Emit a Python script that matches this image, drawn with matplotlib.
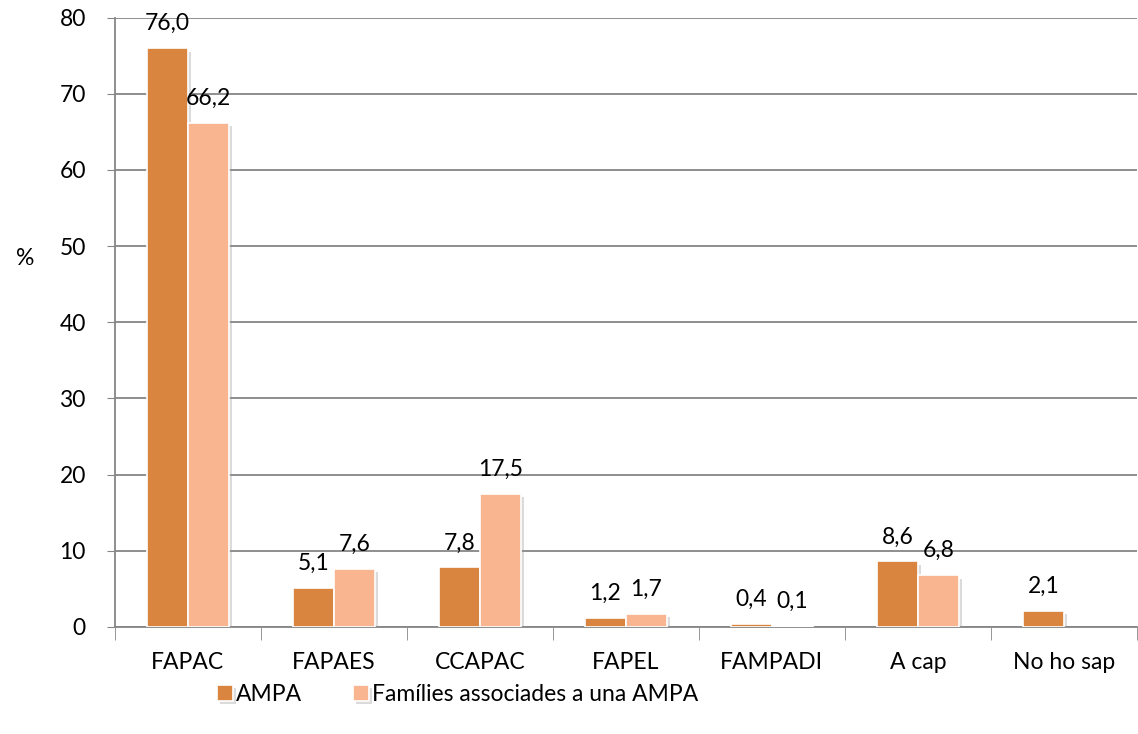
import matplotlib.pyplot as plt
import matplotlib.patheffects as pe
import numpy as np

plt.rcParams['font.family'] = ['Lato', 'DejaVu Sans']

# values
categories = ['FAPAC', 'FAPAES', 'CCAPAC', 'FAPEL', 'FAMPADI', 'A cap', 'No ho sap']
ampa = [76.0, 5.1, 7.8, 1.2, 0.4, 8.6, 2.1]
families = [66.2, 7.6, 17.5, 1.7, 0.1, 6.8, np.nan]
series_names = ['AMPA', 'Famílies associades a una AMPA']
colors = ['#D9843F', '#F8B590']

fig = plt.figure(figsize=(11.38, 7.34), dpi=100)
ax = fig.add_axes([0.101, 0.146, 0.898, 0.83])

x = np.arange(len(categories))
w = 0.28
shadow = [pe.SimplePatchShadow(offset=(2.5, -2.5), shadow_rgbFace='#999999', alpha=0.35), pe.Normal()]

for vals, off, col, name in [(ampa, -w / 2, colors[0], series_names[0]),
                             (families, w / 2, colors[1], series_names[1])]:
    bars = ax.bar(x + off, vals, w, color=col, edgecolor='white', linewidth=1.2,
                  label=name, zorder=3)
    for b, v in zip(bars, vals):
        b.set_path_effects(shadow)
        if np.isnan(v):
            continue
        ax.annotate(f'{v:.1f}'.replace('.', ','), (b.get_x() + b.get_width() / 2, v),
                    xytext=(0, 10), textcoords='offset points', ha='center', va='bottom',
                    fontsize=16.5, zorder=4)

ax.set_xlim(-0.5, len(categories) - 0.5)
ax.set_ylim(0, 80)
ax.set_yticks(range(0, 81, 10))
ax.set_xticks(x)
ax.set_xticklabels(categories)
ax.set_xticks(np.arange(-0.5, len(categories)), minor=True)
ax.tick_params(axis='x', which='major', length=0, pad=18, labelsize=16.5)
ax.tick_params(axis='x', which='minor', length=9, color='#868686', direction='out')
ax.tick_params(axis='y', length=6, color='#868686', labelsize=16.5, pad=15)

ax.grid(axis='y', color='#868686', linewidth=1.3, zorder=0)
ax.set_axisbelow(True)
for s in ['top', 'right']:
    ax.spines[s].set_visible(False)
for s in ['left', 'bottom']:
    ax.spines[s].set_color('#868686')
    ax.spines[s].set_linewidth(1.3)

fig.text(0.014, 0.648, '%', fontsize=16.5, ha='left', va='center')

leg = fig.legend(loc='center', bbox_to_anchor=(0.402, 0.054), ncol=2, frameon=False,
                 fontsize=16.5, handlelength=0.7, handleheight=0.7, handletextpad=0.15,
                 columnspacing=2.2)
for h in leg.legend_handles:
    h.set_path_effects(shadow)

plt.savefig('out.png', dpi=100)
